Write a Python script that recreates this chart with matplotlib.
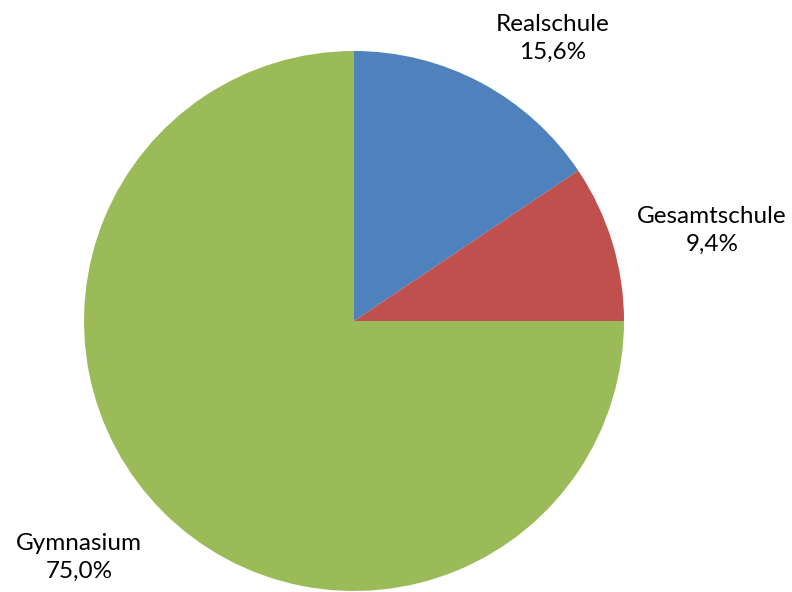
import matplotlib
matplotlib.use("Agg")
import matplotlib.pyplot as plt

categories = ["Realschule", "Gesamtschule", "Gymnasium"]
shares = [15.6, 9.4, 75.0]
colors = ["#4F81BD", "#C0504D", "#9BBB59"]

W, H = 792, 592
fig = plt.figure(figsize=(W / 100, H / 100), dpi=100)
ax = fig.add_axes([0, 0, 1, 1])

cx, cy, r = 354, H - 321, 270
ax.pie(shares, colors=colors, startangle=90, counterclock=False,
       center=(cx, cy), radius=r, frame=True,
       wedgeprops=dict(linewidth=0))
ax.set_xlim(0, W)
ax.set_ylim(0, H)
ax.set_aspect("equal")
ax.axis("off")

label_pos = [(553, H - 38), (712, H - 230), (79, H - 557)]
for name, val, (x, y) in zip(categories, shares, label_pos):
    txt = f"{name}\n{val:.1f}%".replace(".", ",")
    ax.text(x, y, txt, ha="center", va="center", fontsize=17.5,
            family="Lato", color="black", linespacing=1.4)

fig.savefig("out.png", dpi=100)
